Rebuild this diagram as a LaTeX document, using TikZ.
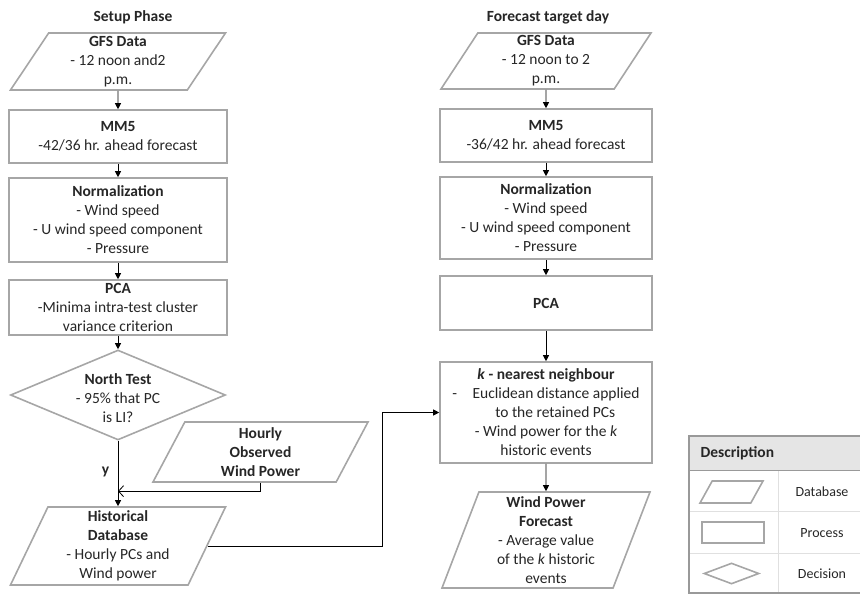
\documentclass[tikz,border=0pt]{standalone}
\usepackage{fontspec}
\setmainfont{Carlito}
\usetikzlibrary{shapes.geometric,arrows.meta,positioning}

\begin{document}
\begin{tikzpicture}[x=1pt, y=-1pt, font=\fontsize{15.5}{19}\selectfont, text=black!85,
    shp/.style={draw=black!35, line width=1.6pt, align=center, inner sep=0pt},
    proc/.style={shp, rectangle, minimum width=#1},
    db/.style={shp, trapezium, trapezium stretches body},
    flow/.style={-{Triangle[length=6pt,width=6pt]}, line width=.8pt},
    feed/.style={-{Straight Barb[length=5pt,width=11pt]}, line width=.8pt}]
    \useasboundingbox (0,0) rectangle (860,594);

    \node[font=\fontsize{15.5}{19}\bfseries\selectfont] (setup) at (133,17) {Setup Phase};
    \node[font=\fontsize{15.5}{19}\bfseries\selectfont] (target) at (548,17) {Forecast target day};

    \node[db, trapezium left angle=53, trapezium right angle=127, minimum width=215, minimum height=57] (gfs1) at (118,61.5)
      {\textbf{GFS Data}\\- 12 noon and2\\p.m.};
    \node[proc=218, minimum height=53] (mm51) at (118,136.5) {\textbf{MM5}\\-42/36 hr. ahead forecast};
    \node[proc=218, minimum height=84] (norm1) at (118,220)
      {\textbf{Normalization}\\- Wind speed\\- U wind speed component\\- Pressure};
    \node[proc=218, minimum height=55] (pca1) at (118,307.5)
      {\textbf{PCA}\\-Minima intra-test cluster\\variance criterion};
    \node[shp, diamond, minimum width=215, minimum height=90] (north) at (118,395) {};
    \node[align=center] (northtxt) at (118,398) {\textbf{North Test}\\- 95\% that PC\\is LI?};
    \node[db, trapezium left angle=57, trapezium right angle=123, minimum width=215, minimum height=60] (hourly) at (260.5,452)
      {\textbf{Hourly}\\\textbf{Observed}\\\textbf{Wind Power}};
    \node[db, trapezium left angle=62, trapezium right angle=118, minimum width=215, minimum height=78] (hist) at (118,546)
      {\textbf{Historical}\\\textbf{Database}\\- Hourly PCs and\\Wind power};

    \node[db, trapezium left angle=54, trapezium right angle=126, minimum width=210, minimum height=56] (gfs2) at (546,61)
      {\textbf{GFS Data}\\- 12 noon to 2\\p.m.};
    \node[proc=212, minimum height=53] (mm52) at (546,135.5) {\textbf{MM5}\\-36/42 hr. ahead forecast};
    \node[proc=212, minimum height=82] (norm2) at (546,218)
      {\textbf{Normalization}\\- Wind speed\\- U wind speed component\\- Pressure};
    \node[proc=212, minimum height=54] (pca2) at (546,303) {\textbf{PCA}};
    \node[proc=212, minimum height=101] (knn) at (546,412.5)
      {\textbf{\textit{k} - nearest neighbour}\\-\hspace{1em}Euclidean distance applied\\\hspace{1.2em}to the retained PCs\\- Wind power for the \textit{k}\\historic events};
    \node[db, trapezium left angle=67, trapezium right angle=113, minimum width=208, minimum height=96] (wpf) at (546,540)
      {\textbf{Wind Power}\\\textbf{Forecast}\\- Average value\\of the \textit{k} historic\\events};

    \foreach \a/\b in {gfs1/mm51, mm51/norm1, norm1/pca1, pca1/north, gfs2/mm52, mm52/norm2, norm2/pca2, pca2/knn, knn/wpf}
      \draw[flow] (\a) -- (\b);
    \draw[flow] (north) -- node[left=5pt, pos=.48] (yes) {\textbf{y}} (hist);
    \draw[feed] (hourly.south) |- ([yshift=15pt]hist.north);
    \draw[flow] (hist.east) -- ++(175,0) |- (knn.west);

    \fill[black!10] (689,436) rectangle (860,470);
    \draw[black!12, line width=1pt] (689,511) -- (860,511) (689,553) -- (860,553) (778,470) -- (778,593);
    \draw[black!40, line width=1pt] (689,470) -- (860,470);
    \draw[black!40, line width=1.2pt] (860,436) -- (689,436) -- (689,593) -- (860,593);
    \node[font=\fontsize{15.5}{19}\bfseries\selectfont, anchor=west] (desc) at (697,453) {Description};
    \node[db, trapezium left angle=61, trapezium right angle=119, minimum width=63] (legdb) at (731.5,492) {\rule{0pt}{22pt}};
    \node[proc=62, minimum height=21] (legproc) at (733,532.5) {};
    \node[shp, diamond, minimum width=55, minimum height=21] (legdec) at (731.5,573.5) {};
    \foreach \n/\t/\y in {dbtxt/Database/492, proctxt/Process/533, dectxt/Decision/574}
      \node[font=\fontsize{14}{17}\selectfont] (\n) at (822,\y) {\t};
\end{tikzpicture}
\end{document}
